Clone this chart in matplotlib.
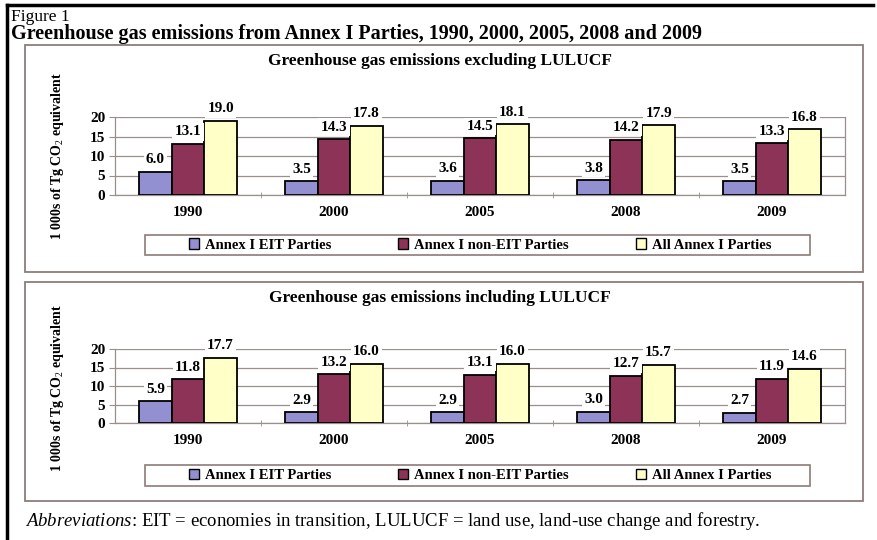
import matplotlib
matplotlib.use("Agg")
import matplotlib.pyplot as plt
from matplotlib.patches import Rectangle, Patch
from matplotlib.lines import Line2D
import numpy as np

plt.rcParams['font.family'] = ['Liberation Serif', 'DejaVu Serif']
plt.rcParams['mathtext.fontset'] = 'custom'
plt.rcParams['mathtext.rm'] = 'Liberation Serif'
plt.rcParams['mathtext.it'] = 'Liberation Serif:italic'
plt.rcParams['mathtext.bf'] = 'Liberation Serif:bold'

years = ['1990', '2000', '2005', '2008', '2009']
series_names = ['Annex I EIT Parties', 'Annex I non-EIT Parties', 'All Annex I Parties']

excl_eit = [6.0, 3.5, 3.6, 3.8, 3.5]
excl_non_eit = [13.1, 14.3, 14.5, 14.2, 13.3]
excl_all = [19.0, 17.8, 18.1, 17.9, 16.8]

incl_eit = [5.9, 2.9, 2.9, 3.0, 2.7]
incl_non_eit = [11.8, 13.2, 13.1, 12.7, 11.9]
incl_all = [17.7, 16.0, 16.0, 15.7, 14.6]

colors = ['#9290d0', '#8e3358', '#ffffc8']
frame_col = '#8c7d78'
grid_col = '#9a8f8a'

W, H = 877, 540
fig = plt.figure(figsize=(W / 100, H / 100), dpi=100)


def fx(px):
    return px / W


def fy(py):
    return 1 - py / H


def box(x0, y0, x1, y1, lw):
    fig.add_artist(Rectangle((fx(x0), fy(y1)), fx(x1) - fx(x0), fy(y0) - fy(y1),
                             transform=fig.transFigure, fill=False,
                             edgecolor=frame_col, lw=lw))


# outer frame: top and left rules
fig.add_artist(Line2D([fx(7), fx(873)], [fy(5), fy(5)], color='black', lw=2.5))
fig.add_artist(Line2D([fx(7), fx(7)], [fy(5), fy(540)], color='black', lw=2.5))

fig.text(fx(11), fy(21), 'Figure 1', fontsize=12.5, va='baseline', ha='left')
fig.text(fx(11), fy(39), 'Greenhouse gas emissions from Annex I Parties, 1990, 2000, 2005, 2008 and 2009',
         fontsize=14.5, fontweight='bold', va='baseline', ha='left')


def panel(top, bottom, title, ax_y0, ax_y20, legend_top, legend_bottom, label_y, data):
    box(25, top, 863, bottom, 1.3)
    fig.text(fx(440), fy(top + 16), title, fontsize=12.5, fontweight='bold',
             ha='center', va='center')

    ax = fig.add_axes([fx(115), fy(ax_y0), fx(845) - fx(115), fy(ax_y20) - fy(ax_y0)])
    x = np.arange(len(years))
    bw = 0.223
    handles = []
    for i, vals in enumerate(data):
        bars = ax.bar(x + (i - 1) * bw, vals, bw, color=colors[i], edgecolor='black',
                      linewidth=1.3, zorder=3)
        handles.append(Patch(facecolor=colors[i], edgecolor='black', linewidth=1))
        for b, v in zip(bars, vals):
            ax.annotate(f'{v:.1f}', (b.get_x() + b.get_width() / 2, v), xytext=(0, 4),
                        textcoords='offset points', ha='center', va='bottom',
                        fontsize=11, fontweight='bold', zorder=5, clip_on=False,
                        bbox=dict(boxstyle='square,pad=0.15', fc='white', ec='none'))

    ax.set_xlim(-0.5, len(years) - 0.5)
    ax.set_ylim(0, 20)
    ax.set_yticks([0, 5, 10, 15, 20])
    ax.set_yticklabels(['0', '5', '10', '15', '20'], fontsize=11, fontweight='bold')
    ax.set_xticks(x)
    ax.set_xticklabels(years, fontsize=11, fontweight='bold')
    ax.set_xticks(np.arange(0.5, len(years) - 0.5, 1), minor=True)
    ax.tick_params(axis='x', which='major', length=0, pad=8)
    ax.tick_params(axis='x', which='minor', length=4, direction='inout', color=grid_col)
    ax.tick_params(axis='y', length=4, color=grid_col, pad=3)
    ax.yaxis.grid(True, color=grid_col, lw=0.9, zorder=0)
    ax.set_axisbelow(True)
    ax.spines['top'].set_visible(False)
    for side in ['left', 'bottom', 'right']:
        ax.spines[side].set_color(grid_col)
        ax.spines[side].set_linewidth(0.9)

    fig.text(fx(58), fy(label_y), r'1 000s of Tg CO$_2$ equivalent',
             rotation=90, fontsize=10, fontweight='bold', ha='center', va='center')

    # legend entries without their own frame, boxed separately
    box(145, legend_top, 810, legend_bottom, 1.2)
    leg = fig.legend(handles, series_names, loc='center', ncol=3,
                     bbox_to_anchor=(fx(480), fy((legend_top + legend_bottom) / 2)),
                     bbox_transform=fig.transFigure, fontsize=10.5, handlelength=0.7,
                     handleheight=0.7, handletextpad=0.4, columnspacing=4.6,
                     borderpad=0, borderaxespad=0, frameon=False)
    for t in leg.get_texts():
        t.set_fontweight('bold')
    return ax


panel(45, 272, 'Greenhouse gas emissions excluding LULUCF', 195, 117, 235, 255, 156,
      [excl_eit, excl_non_eit, excl_all])
panel(282, 501, 'Greenhouse gas emissions including LULUCF', 423, 349, 465, 486, 388,
      [incl_eit, incl_non_eit, incl_all])

fig.text(fx(25), fy(521), r'$\it{Abbreviations}$: EIT = economies in transition, '
         'LULUCF = land use, land-use change and forestry.', fontsize=13.5,
         ha='left', va='center')

fig.savefig('out.png', dpi=100, facecolor='white')
